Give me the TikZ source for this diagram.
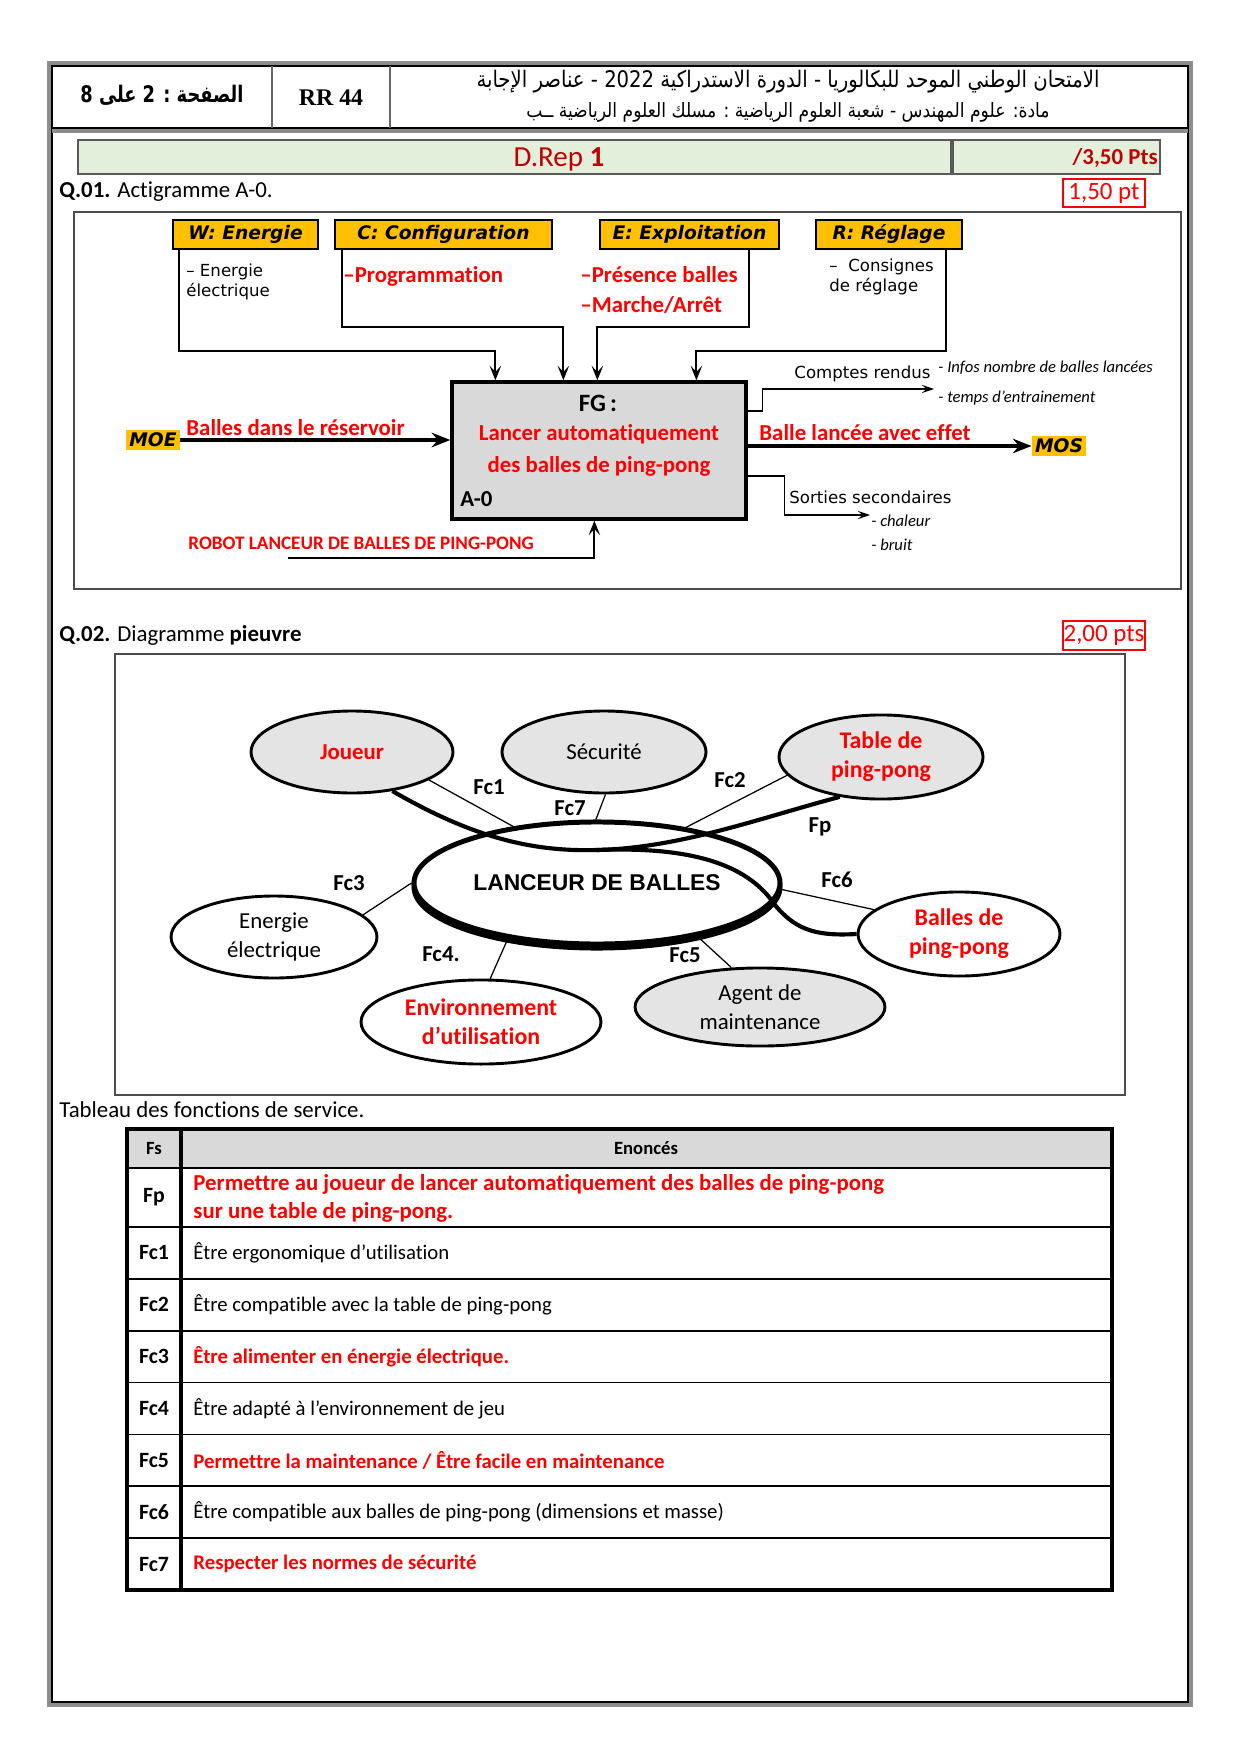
\documentclass[tikz,border=0pt]{standalone}
\usepackage{fontspec}
\setmainfont{Carlito}[Ligatures=NoCommon]
\newfontfamily\verd{DejaVu Sans}
\newfontfamily\arialf{Liberation Sans}
\newfontfamily\timesf{Liberation Serif}
\newfontfamily\arabicfont[Script=Arabic]{DejaVu Sans}
\TeXXeTstate=1
\usepackage{graphicx}
\usepackage{tikz}
\usetikzlibrary{arrows.meta,positioning,shapes.geometric,calc}
\definecolor{ygold}{HTML}{FFC000}
\definecolor{redT}{HTML}{FF0000}
\definecolor{darkred}{HTML}{C00000}
\definecolor{lgreen}{HTML}{E2EFDA}
\definecolor{lgrey}{HTML}{E4E4E4}
\definecolor{fggrey}{HTML}{D9D9D9}
\newcommand{\fsz}[2]{\fontsize{#1}{#2}\selectfont}

\begin{document}
\begin{tikzpicture}[x=0.4817pt, y=-0.4817pt, inner sep=0pt,
  ybox/.style={draw, line width=0.9pt, fill=ygold, minimum height=14pt,
               font=\verd\bfseries\itshape\fsz{9}{11}},
  tag/.style={fill=ygold, inner sep=1.5pt, font=\verd\bfseries\itshape\fsz{9}{11}},
  bar/.style={draw=black!65, line width=0.9pt, fill=lgreen, minimum height=16.4pt},
  ptbox/.style={draw=redT, line width=0.8pt, text=redT, font=\fsz{12}{14}},
  fgbox/.style={draw, line width=1.6pt, fill=fggrey, minimum width=141.6pt, minimum height=66pt},
  inarr/.style={line width=1pt, -{Stealth[length=7pt,width=5.5pt,inset=3pt]}},
  bigarr/.style={line width=2.2pt, -{Stealth[length=9pt,width=7pt,inset=3pt]}},
  outarr/.style={line width=0.8pt, -{Stealth[length=6pt,width=4pt,inset=2.5pt]}},
  redlab/.style={text=redT, font=\bfseries\fsz{11}{14}},
  small/.style={font=\verd\fsz{8}{9.6}},
  note/.style={font=\itshape\fsz{8}{10}},
  envg/.style={ellipse, draw, line width=1.4pt, fill=lgrey, align=center, font=\fsz{11}{14}},
  envw/.style={envg, fill=white},
  fc/.style={line width=0.6pt},
  fp/.style={line width=2pt},
  fclab/.style={font=\bfseries\fsz{11}{13}},
  cell/.style={font=\fsz{10}{13}, anchor=west}
]
\useasboundingbox (0,0) rectangle (1240,1754);

% page frame and header
\draw[line width=1.6pt, black!45] (49,63) rectangle (1191,1705);
\draw[line width=0.8pt] (52,66) rectangle (1188,1702);
\draw[line width=1.6pt, black!45] (52,131) -- (1188,131);
\draw[line width=0.8pt] (52,128) -- (1188,128);
\draw[line width=1.2pt, black!60] (272,66) -- (272,128) (390,66) -- (390,128);

\node[font=\arabicfont\bfseries\fsz{11}{13}] (page) at (162,95)
  {\scalebox{0.78}[1]{\beginR الصفحة : 2 على 8\endR}};
\node[font=\timesf\bfseries\fsz{11.5}{13}] (code) at (331,98) {RR 44};
\node[font=\arabicfont\fsz{11}{13}] (title) at (788,82)
  {\scalebox{0.86}[1]{\beginR الامتحان الوطني الموحد للبكالوريا - الدورة الاستدراكية \beginL2022\endL{} - عناصر الإجابة\endR}};
\node[font=\arabicfont\fsz{9.5}{11}] (matiere) at (788,112)
  {\scalebox{0.87}[1]{\beginR مادة: علوم المهندس - شعبة العلوم الرياضية : مسلك العلوم الرياضية ــب\endR}};

\node[bar, minimum width=420.5pt] (drep) at (514.5,157) {};
\node[bar, minimum width=99.7pt, anchor=west] (drpts) at (drep.east) {};
\node[text=darkred, font=\fsz{14}{16}] (dreptxt) at (559,159) {D.Rep \textbf{1}};
\node[text=darkred, font=\bfseries\fsz{11}{13}, anchor=east] (ptstxt) at (1158,158) {/3,50 Pts};

% Q.01 actigramme
\node[anchor=west, font=\fsz{11}{14}] (q1) at (59,192) {\textbf{Q.01.} Actigramme A-0.};
\node[ptbox, minimum width=39.5pt, minimum height=13.5pt] (pt1) at (1104,193) {1,50 pt};
\draw[line width=0.9pt, black!70] (74,212) rectangle (1181,589);

\node[ybox, minimum width=69.8pt] (W) at (245.5,234.5) {W: Energie};
\node[ybox, minimum width=104.5pt] (C) at (443.5,234.5) {C: Configuration};
\node[ybox, minimum width=86.2pt] (E) at (689.5,234.5) {E: Exploitation};
\node[ybox, minimum width=70.3pt] (R) at (889,234.5) {R: Réglage};

\node[fgbox] (FG) at (599,450.5) {};
\node[font=\bfseries\fsz{12}{14}] (fgt) at (598,403) {FG\,:};
\node[redlab, align=center, font=\bfseries\fsz{11}{15.4}] (fgf) at (599,450) {Lancer automatiquement\\des balles de ping-pong};
\node[font=\bfseries\fsz{11}{13}, anchor=west] (a0) at (460,499) {A-0};

\draw[inarr] ($(W.south west)+(7,0)$) -- ++(0,101) -| ($(FG.north west)+(45,0)$);
\draw[inarr] ($(C.south west)+(8,0)$) -- ++(0,77) -| ($(FG.north west)+(113,0)$);
\draw[inarr] ($(E.south east)+(-31,0)$) -- ++(0,77) -| ($(FG.north west)+(147,0)$);
\draw[inarr] ($(R.south east)+(-17,0)$) -- ++(0,101) -| ($(FG.north west)+(246,0)$);

\node[small, anchor=west, align=left] (wtxt) at (186,282) {– Energie\\électrique};
\node[redlab, anchor=west] (prog) at (343,276) {–Programmation};
\node[redlab, anchor=west] (pres) at (580,275) {–Présence balles};
\node[redlab, anchor=west] (marche) at (580,305) {–Marche/Arrêt};
\node[small, anchor=west, align=left] (cons) at (829,277) {–\ \ Consignes\\de réglage};

\node[tag] (MOE) at (153,440) {MOE};
\node[tag] (MOS) at (1059,446) {MOS};
\draw[bigarr] (MOE.east) -- (MOE.east -| FG.west);
\draw[bigarr] (FG.east |- MOS.west) -- (MOS.west);
\node[redlab, anchor=west] (entree) at (186,428) {Balles dans le réservoir};
\node[redlab, anchor=west] (sortie) at (759,433) {Balle lancée avec effet};

\coordinate (cr) at (934,389);
\draw[outarr] ($(FG.east)+(0,-39.5)$) -- ++(15,0) |- (cr);
\node[small, anchor=west] (crt) at (794,374) {Comptes rendus};
\node[note, anchor=west] (info) at (938,368) {- Infos nombre de balles lancées};
\node[note, anchor=west] (temps) at (938,398) {- temps d’entrainement};

\coordinate (ss) at (870,515);
\draw[outarr] ($(FG.east)+(0,25.5)$) -- ++(37,0) |- (ss);
\node[small, anchor=west] (sst) at (789,497) {Sorties secondaires};
\node[note, anchor=west] (chal) at (871,521) {- chaleur};
\node[note, anchor=west] (bruit) at (871,545) {- bruit};

\coordinate (sup) at (288,558);
\draw[inarr] (sup) -| ($(FG.south west)+(144,0)$);
\node[text=redT, font=\bfseries\fsz{9.2}{11}, anchor=west] (robot) at (188,543) {ROBOT LANCEUR DE BALLES DE PING-PONG};

% Q.02 pieuvre
\node[anchor=west, font=\fsz{11}{14}] (q2) at (59,635) {\textbf{Q.02.} Diagramme \textbf{pieuvre}};
\node[ptbox, minimum width=39.5pt, minimum height=14pt] (pt2) at (1104,635.5) {2,00 pts};
\draw[line width=0.9pt, black!70] (115,654) rectangle (1125,1095);

\node[envg, minimum width=97.3pt, minimum height=39.5pt, redlab] (joueur) at (352,752) {Joueur};
\node[envg, minimum width=98.3pt, minimum height=39.5pt] (secu) at (604,752) {Sécurité};
\node[envg, minimum width=98.3pt, minimum height=40.5pt, redlab, font=\bfseries\fsz{11.5}{14}] (table) at (881,757) {Table de\\ping-pong};
\node[envw, minimum width=99.2pt, minimum height=39.5pt] (energie) at (274,937) {Energie\\électrique};
\node[envw, minimum width=115.6pt, minimum height=40.5pt, redlab, font=\bfseries\fsz{11.5}{14}] (envir) at (481,1022) {Environnement\\d’utilisation};
\node[envg, minimum width=120.4pt, minimum height=37.6pt] (agent) at (760,1007) {Agent de\\maintenance};
\node[envw, minimum width=97.3pt, minimum height=40.5pt, redlab, font=\bfseries\fsz{11.5}{14}] (balles) at (959,934) {Balles de\\ping-pong};
\node[ellipse, draw, line width=2.4pt, minimum width=176.3pt, minimum height=58.8pt] (LBsh) at (597,887) {};
\node[ellipse, draw, line width=2.4pt, fill=white, minimum width=176.3pt, minimum height=58.8pt,
      font=\arialf\bfseries\fsz{11}{13}] (LB) at (597,883) {LANCEUR DE BALLES};

\draw[fc] (joueur.-20) -- (LB.146);
\draw[fc] (secu.-88) -- (LB.91);
\draw[fc] (table.-169) -- (LB.32);
\draw[fc] (energie.14) -- (LB.180);
\draw[fc] (LB.-148) -- (envir.78);
\draw[fc] (LB.-28) -- (agent.126);
\draw[fc] (LB.-2) -- (balles.164);

\coordinate (fpm) at (597,850);
\coordinate (fpb) at (775,905);
\draw[fp] (joueur.-44) .. controls (470,836) and (530,852) .. (fpm)
  .. controls (680,848) and (760,818) .. (table.-136);
\draw[fp] (fpm) .. controls (700,846) and (750,868) .. (fpb)
  .. controls (797,932) and (820,936) .. (balles.180);

\node[fclab] (lfc1) at (489,787) {Fc1};
\node[fclab] (lfc7) at (570,808) {Fc7};
\node[fclab] (lfc2) at (730,780) {Fc2};
\node[fclab] (lfp) at (820,827) {Fp};
\node[fclab] (lfc3) at (349,883) {Fc3};
\node[fclab] (lfc6) at (837,880) {Fc6};
\node[fclab] (lfc4) at (441,954) {Fc4.};
\node[fclab] (lfc5) at (685,955) {Fc5};

% tableau des fonctions de service
\node[anchor=west, font=\fsz{11}{14}] (tabt) at (59,1110) {Tableau des fonctions de service.};
\fill[fggrey] (127,1129) rectangle (1112,1168);
\foreach \yy in {1227,1278.9,1330.7,1382.6,1434.4,1486.3,1538.1}
  \draw[line width=0.8pt] (127,\yy) -- (1112,\yy);
\draw[line width=1.4pt] (127,1168) -- (1112,1168);
\draw[line width=1.6pt] (127,1129) rectangle (1112,1590);
\draw[line width=1.6pt] (181,1129) -- (181,1590);

\node[font=\bfseries\fsz{9}{11}] (hfs) at (154,1148.5) {Fs};
\node[font=\bfseries\fsz{9}{11}] (hen) at (646,1148.5) {Enoncés};
\node[font=\bfseries\fsz{10.5}{12}] (rFp) at (154,1197.5) {Fp};
\node[cell, align=left, text=redT, font=\bfseries\fsz{11}{13.5}] (tFp) at (193,1198) {Permettre au joueur de lancer automatiquement des balles de ping-pong\\sur une table de ping-pong.};
\foreach \k/\lab/\col/\txt in {
  1/Fc1/black/{Être ergonomique d’utilisation},
  2/Fc2/black/{Être compatible avec la table de ping-pong},
  3/Fc3/redT/{\textbf{Être alimenter en énergie électrique.}},
  4/Fc4/black/{Être adapté à l’environnement de jeu},
  5/Fc5/redT/{\textbf{Permettre la maintenance / Être facile en maintenance}},
  6/Fc6/black/{Être compatible aux balles de ping-pong (dimensions et masse)},
  7/Fc7/redT/{\textbf{Respecter les normes de sécurité}}}{
  \node[font=\bfseries\fsz{10.5}{12}] (r\lab) at (154,{1201.07+51.86*\k}) {\lab};
  \node[cell, text=\col] (t\lab) at (193,{1201.07+51.86*\k}) {\txt};
}
\end{tikzpicture}
\end{document}
